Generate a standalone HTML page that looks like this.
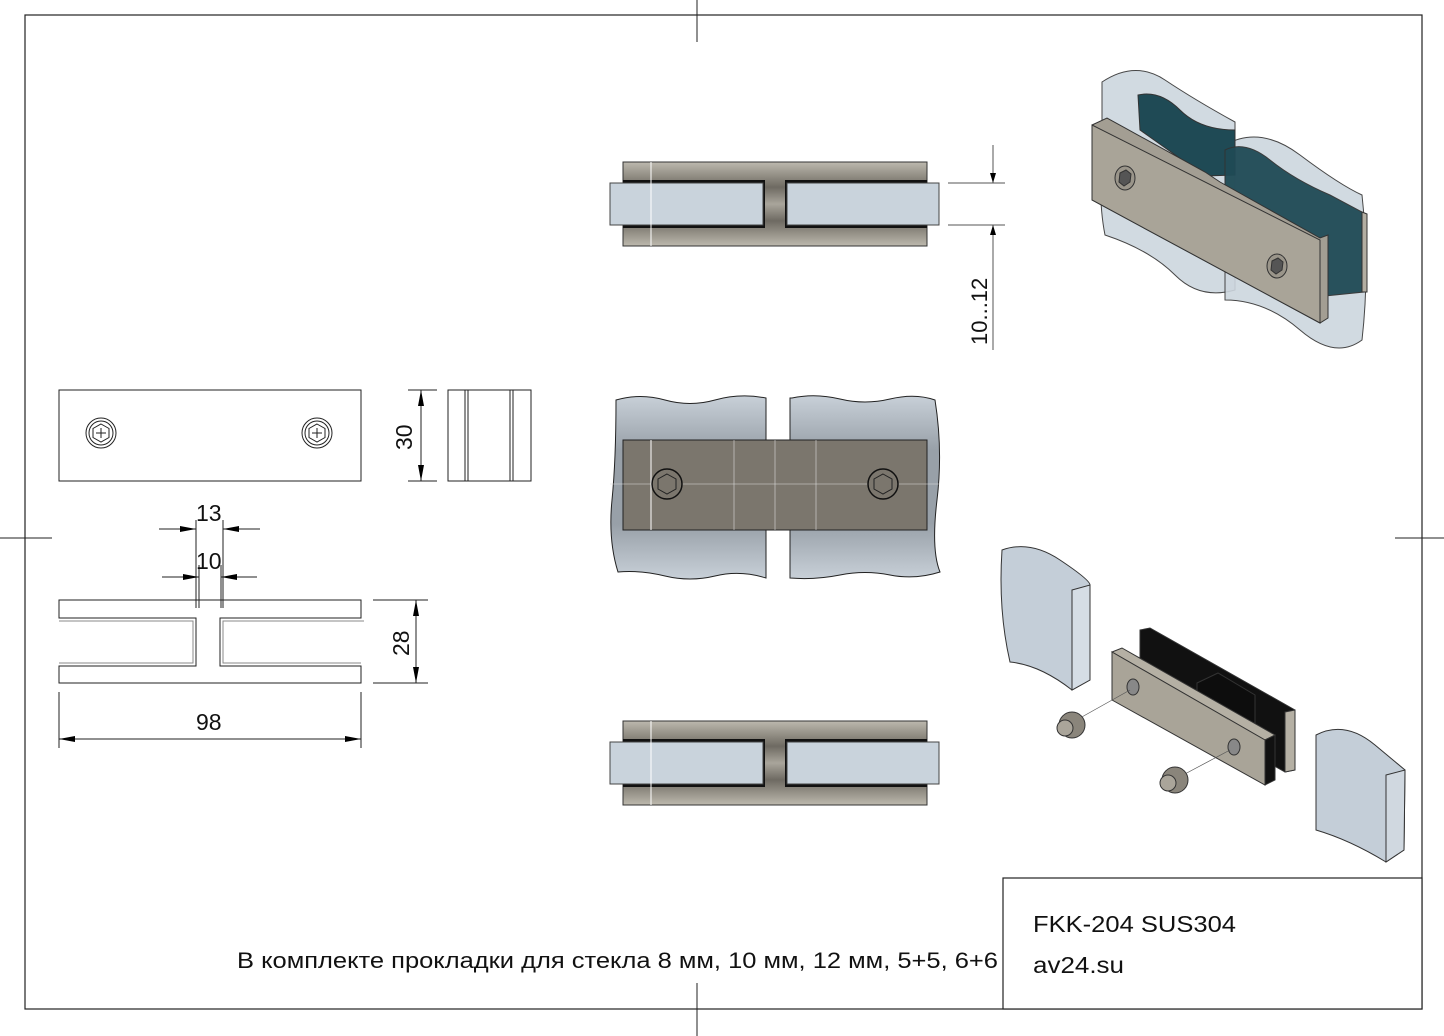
<!DOCTYPE html>
<html><head><meta charset="utf-8"><style>
html,body{margin:0;padding:0;background:#fff}
svg{display:block}
text{font-family:"Liberation Sans",sans-serif;fill:#111}
</style></head><body>
<svg width="1444" height="1036" viewBox="0 0 1444 1036" xmlns="http://www.w3.org/2000/svg">
<defs>
<marker id="ar" viewBox="0 0 10 6" refX="10" refY="3" markerWidth="10" markerHeight="6" orient="auto-start-reverse" markerUnits="userSpaceOnUse"><path d="M0,0 L10,3 L0,6 z" fill="#000"/></marker>
<marker id="ar2" viewBox="0 0 16 6" refX="16" refY="3" markerWidth="16" markerHeight="6" orient="auto-start-reverse" markerUnits="userSpaceOnUse"><path d="M0,0 L16,3 L0,6 z" fill="#000"/></marker>
<linearGradient id="plt" x1="0" y1="0" x2="0" y2="1"><stop offset="0" stop-color="#bdb9ae"/><stop offset="0.3" stop-color="#6e6a62"/><stop offset="0.5" stop-color="#a9a59b"/><stop offset="0.7" stop-color="#6e6a62"/><stop offset="1" stop-color="#bdb9ae"/></linearGradient>
<linearGradient id="gl" x1="0" y1="0" x2="0" y2="1"><stop offset="0" stop-color="#c8d0d8"/><stop offset="0.3" stop-color="#98a0a8"/><stop offset="0.7" stop-color="#98a0a8"/><stop offset="1" stop-color="#c8d0d8"/></linearGradient>
</defs>
<rect x="25" y="15" width="1397" height="994" fill="none" stroke="#222" stroke-width="1.2"/>
<line x1="697" y1="0" x2="697" y2="42" stroke="#222"/>
<line x1="697" y1="983" x2="697" y2="1036" stroke="#222"/>
<line x1="0" y1="538" x2="52" y2="538" stroke="#222"/>
<line x1="1395" y1="538" x2="1444" y2="538" stroke="#222"/>
<rect x="1003" y="878" width="419" height="131" fill="#fff" stroke="#222" stroke-width="1.2"/>
<text x="1033" y="932" font-size="23" textLength="203" lengthAdjust="spacingAndGlyphs">FKK-204 SUS304</text>
<text x="1033" y="973" font-size="23" textLength="91" lengthAdjust="spacingAndGlyphs">av24.su</text>
<text x="237" y="968" font-size="22" textLength="761" lengthAdjust="spacingAndGlyphs">В комплекте прокладки для стекла 8 мм, 10 мм, 12 мм, 5+5, 6+6</text>

<g>
<rect x="623" y="162" width="304" height="84" fill="url(#plt)" stroke="#333"/>
<rect x="623" y="180" width="142" height="48" fill="#111"/>
<rect x="785" y="180" width="142" height="48" fill="#111"/>
<rect x="610" y="183" width="153" height="42" fill="#c9d3dc" stroke="#444"/>
<rect x="787" y="183" width="152" height="42" fill="#c9d3dc" stroke="#444"/>
<line x1="651" y1="162" x2="651" y2="246" stroke="#fff"/>
<line x1="993" y1="145" x2="993" y2="183" stroke="#555" marker-end="url(#ar)"/>
<line x1="993" y1="350" x2="993" y2="225" stroke="#555" marker-end="url(#ar)"/>
<line x1="948" y1="183" x2="1005" y2="183" stroke="#555"/>
<line x1="948" y1="225" x2="1005" y2="225" stroke="#555"/>
<text transform="translate(987,345) rotate(-90)" font-size="22">10...12</text>
</g>
<g>
<rect x="623" y="721" width="304" height="84" fill="url(#plt)" stroke="#333"/>
<rect x="623" y="739" width="142" height="48" fill="#111"/>
<rect x="785" y="739" width="142" height="48" fill="#111"/>
<rect x="610" y="742" width="153" height="42" fill="#c9d3dc" stroke="#444"/>
<rect x="787" y="742" width="152" height="42" fill="#c9d3dc" stroke="#444"/>
<line x1="651" y1="721" x2="651" y2="805" stroke="#fff"/>
</g>
<g stroke="#222" stroke-width="1">
<path d="M616,400 Q640,393 665,400 T715,400 T766,398 L766,578 Q740,570 715,576 T665,576 T618,572 Q608,540 612,500 T616,400 Z" fill="url(#gl)"/>
<path d="M792,398 Q815,393 840,399 T890,399 T935,400 Q943,450 937,500 T940,572 Q915,580 890,575 T840,575 T790,578 L790,398 Z" fill="url(#gl)"/>
<rect x="623" y="440" width="304" height="90" fill="#7b766d"/>
<g stroke="#ddd" stroke-width="0.6"><line x1="734" y1="440" x2="734" y2="530"/><line x1="775" y1="440" x2="775" y2="530"/><line x1="816" y1="440" x2="816" y2="530"/><line x1="610" y1="484" x2="940" y2="484"/></g>
<line x1="651" y1="440" x2="651" y2="530" stroke="#fff"/>
<circle cx="667" cy="484" r="15" fill="#7b766d" stroke="#111" stroke-width="1.5"/>
<path d="M667,474 L676,479 L676,489 L667,494 L658,489 L658,479 Z" fill="none"/>
<circle cx="883" cy="484" r="15" fill="#7b766d" stroke="#111" stroke-width="1.5"/>
<path d="M883,474 L892,479 L892,489 L883,494 L874,489 L874,479 Z" fill="none"/>
</g>

<g stroke="#222" stroke-width="1" fill="none">
<rect x="59" y="390" width="302" height="91"/>
<circle cx="101" cy="433" r="15"/><circle cx="101" cy="433" r="12"/><path d="M101,424 L109,428.5 L109,437.5 L101,442 L93,437.5 L93,428.5 Z"/><path d="M96,433 H106 M101,428 V438"/>
<circle cx="317" cy="433" r="15"/><circle cx="317" cy="433" r="12"/><path d="M317,424 L325,428.5 L325,437.5 L317,442 L309,437.5 L309,428.5 Z"/><path d="M312,433 H322 M317,428 V438"/>
<line x1="408" y1="390" x2="437" y2="390"/><line x1="408" y1="481" x2="437" y2="481"/>
<line x1="421" y1="435" x2="421" y2="390" marker-end="url(#ar2)"/><line x1="421" y1="435" x2="421" y2="481" marker-end="url(#ar2)"/>
<rect x="448" y="390" width="83" height="91"/>
<path d="M465,390V481M468,390V481M510,390V481M513,390V481"/>
<path d="M59,600 H361 V618 H220 V666 H361 V683 H59 V666 H196 V618 H59 Z"/>
<path d="M59,621 H193 V663 H59 M364,621 H223 V663 H361" stroke="#888"/>
<line x1="196" y1="520" x2="196" y2="608"/><line x1="223" y1="520" x2="223" y2="608"/>
<line x1="199" y1="565" x2="199" y2="608"/><line x1="221" y1="565" x2="221" y2="608"/>
<line x1="159" y1="529" x2="196" y2="529" marker-end="url(#ar2)"/><line x1="260" y1="529" x2="223" y2="529" marker-end="url(#ar2)"/>
<line x1="162" y1="577" x2="199" y2="577" marker-end="url(#ar2)"/><line x1="257" y1="577" x2="221" y2="577" marker-end="url(#ar2)"/>
<line x1="373" y1="600" x2="428" y2="600"/><line x1="373" y1="683" x2="428" y2="683"/>
<line x1="416" y1="640" x2="416" y2="600" marker-end="url(#ar2)"/><line x1="416" y1="640" x2="416" y2="683" marker-end="url(#ar2)"/>
<line x1="59" y1="692" x2="59" y2="748"/><line x1="361" y1="692" x2="361" y2="748"/>
<line x1="210" y1="739" x2="59" y2="739" marker-end="url(#ar2)"/><line x1="210" y1="739" x2="361" y2="739" marker-end="url(#ar2)"/>
</g>
<text x="196" y="521" font-size="23">13</text>
<text x="196" y="569" font-size="23">10</text>
<text x="196" y="730" font-size="23">98</text>
<text transform="translate(412,450) rotate(-90)" font-size="23">30</text>
<text transform="translate(409,656) rotate(-90)" font-size="23">28</text>

<g stroke="#333" stroke-width="1">
<path d="M1102,82 Q1135,60 1165,80 T1235,122 L1235,290 Q1200,300 1175,275 T1105,235 Q1098,200 1102,150 Z" fill="#cdd6de" opacity="0.9"/>
<path d="M1225,145 Q1260,125 1300,155 T1362,195 Q1370,270 1362,340 Q1335,360 1300,330 T1225,300 Z" fill="#cdd6de" opacity="0.9"/>
<path d="M1138,95 Q1160,90 1180,110 T1235,130 L1235,175 L1205,176 L1140,130 Z" fill="#1f4a55"/>
<path d="M1225,150 Q1245,140 1270,160 T1330,195 L1362,212 L1364,292 L1325,296 L1225,240 Z" fill="#1f4a55" opacity="0.95"/>
<path d="M1092,125 L1107,118 L1205,172 L1220,182 L1320,238 L1328,235 L1328,318 L1320,323 L1092,200 Z" fill="#a39e93"/>
<path d="M1092,125 L1320,240 L1320,323 L1092,200 Z" fill="#a9a498"/>
<path d="M1362,212 L1367,214 L1367,292 L1362,292 Z" fill="#b3aea2"/>
<ellipse cx="1125" cy="178" rx="10" ry="12" fill="#9a958a"/>
<path d="M1120,173 L1126,170 L1131,174 L1130,182 L1124,186 L1119,182 Z" fill="#555"/>
<ellipse cx="1277" cy="266" rx="10" ry="12" fill="#9a958a"/>
<path d="M1272,261 L1278,258 L1283,262 L1282,270 L1276,274 L1271,270 Z" fill="#555"/>
</g>

<g stroke="#333" stroke-width="1">
<path d="M1002,550 Q1030,540 1060,560 T1090,585 L1090,680 L1072,690 Q1040,665 1010,662 Q998,610 1002,550 Z" fill="#c4ced8"/>
<path d="M1072,590 L1090,585 L1090,680 L1072,690 Z" fill="#d5dde5"/>
<path d="M1140,630 L1150,628 L1295,710 L1295,770 L1285,772 L1140,690 Z" fill="#111"/>
<path d="M1285,712 L1295,710 L1295,770 L1285,772 Z" fill="#b5b0a4"/>
<path d="M1197,683 L1218,673 L1255,695 L1255,740 L1197,710 Z" fill="#0d0d0d"/>
<path d="M1112,652 L1122,648 L1275,735 L1265,740 Z" fill="#b5b0a4"/>
<path d="M1112,652 L1265,740 L1265,785 L1112,700 Z" fill="#a9a498"/>
<path d="M1265,740 L1275,735 L1275,780 L1265,785 Z" fill="#111"/>
<ellipse cx="1133" cy="687" rx="6" ry="8" fill="#888"/>
<ellipse cx="1234" cy="747" rx="6" ry="8" fill="#888"/>
<line x1="1080" y1="718" x2="1130" y2="690" stroke="#555" stroke-width="0.7"/>
<line x1="1183" y1="775" x2="1230" y2="750" stroke="#555" stroke-width="0.7"/>
<ellipse cx="1072" cy="725" rx="13" ry="13" fill="#8a857b"/>
<ellipse cx="1065" cy="728" rx="8" ry="8" fill="#aaa59a"/>
<ellipse cx="1175" cy="780" rx="13" ry="13" fill="#8a857b"/>
<ellipse cx="1168" cy="783" rx="8" ry="8" fill="#aaa59a"/>
<path d="M1316,735 Q1345,720 1375,745 T1405,770 L1404,850 L1386,862 Q1350,840 1316,830 Z" fill="#c4ced8"/>
<path d="M1386,775 L1405,770 L1404,850 L1386,862 Z" fill="#d0d8e0"/>
</g>
</svg>
</body></html>
